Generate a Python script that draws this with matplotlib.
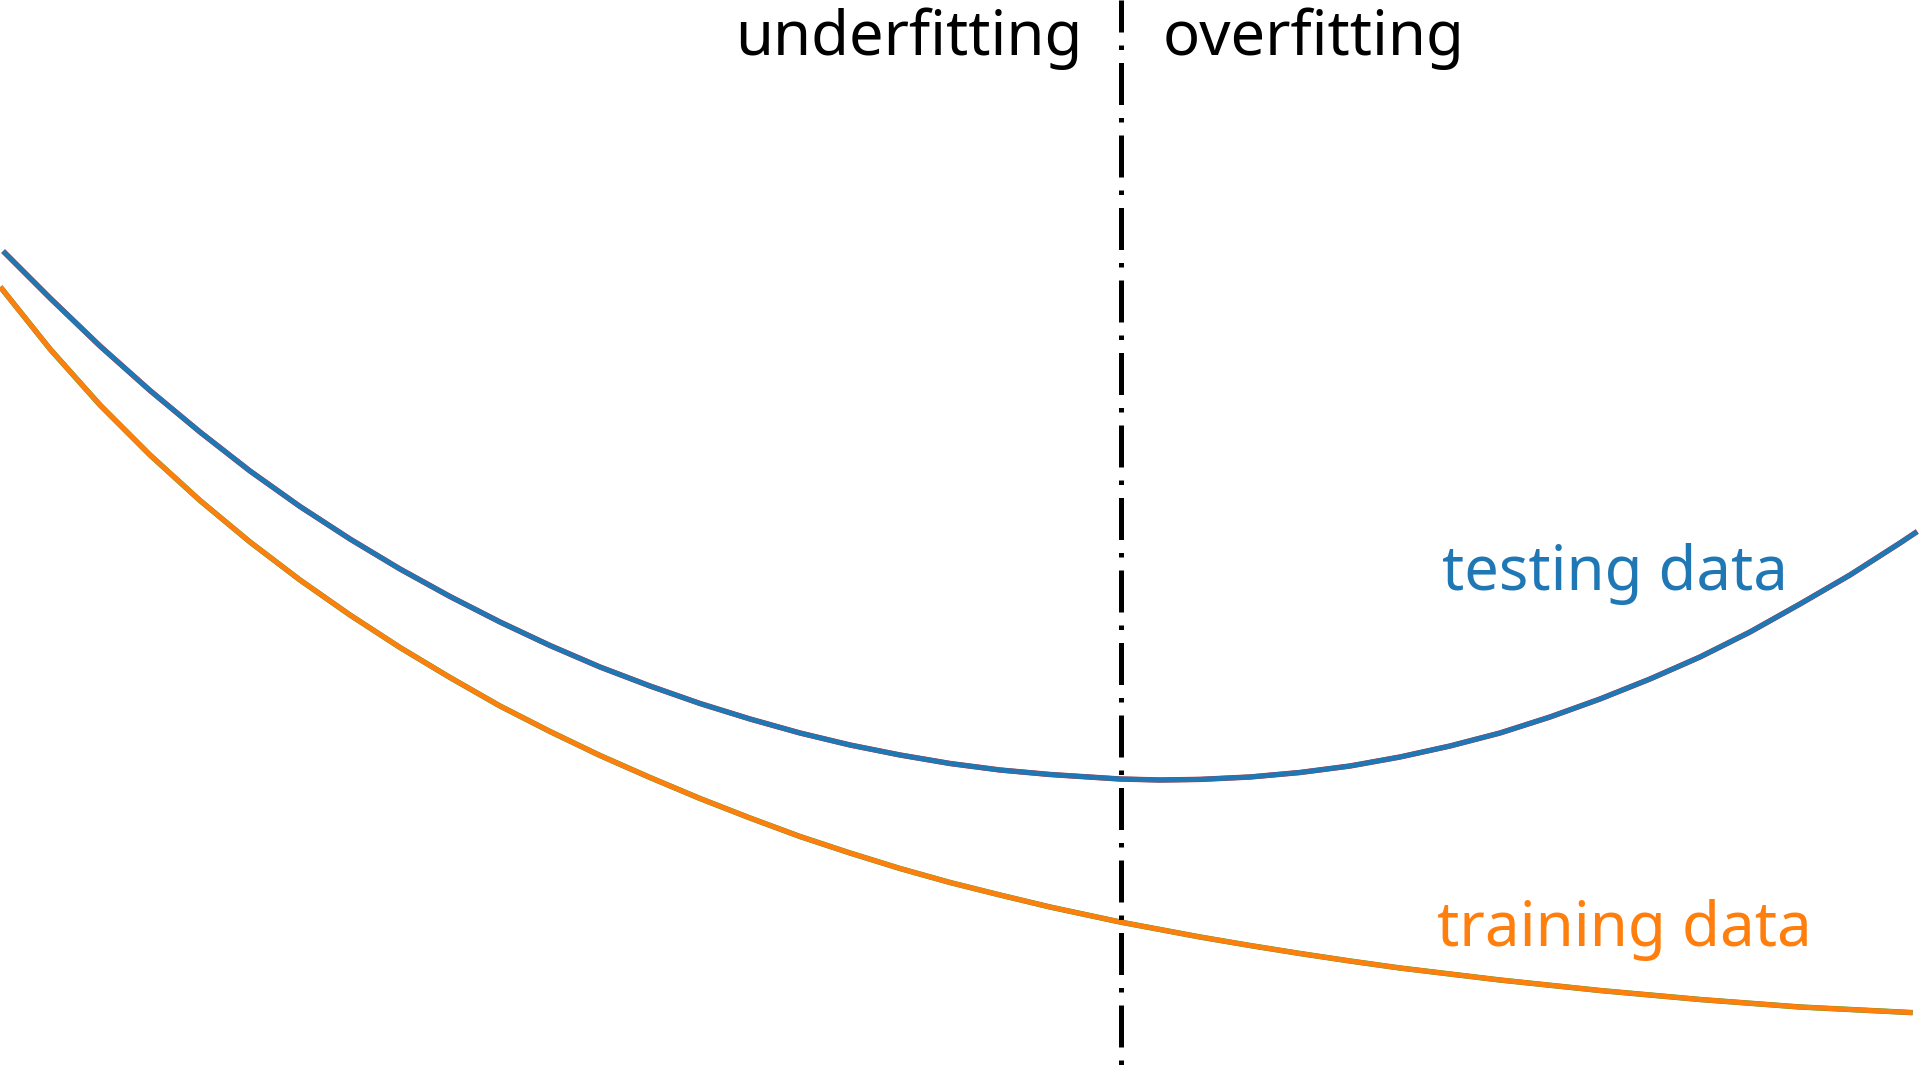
import numpy as np
import matplotlib.pyplot as plt

plt.rcParams['font.family'] = ['Noto Sans', 'DejaVu Sans']

# model complexity (x) and error (y)
test_x = [5, 50, 100, 150, 200, 250, 300, 350, 400, 450, 500, 550, 600, 650,
          700, 750, 800, 850, 900, 950, 1000, 1050, 1120, 1160, 1200, 1250,
          1300, 1350, 1400, 1450, 1500, 1550, 1600, 1650, 1700, 1750, 1800,
          1850, 1900, 1915]
test_err = [827, 782, 734, 689.5, 648, 609, 573.5, 541, 511, 483.5, 458, 434.5,
            413, 394, 376.5, 361, 347, 335, 325, 316.5, 310, 305.5, 301, 300,
            300.6, 303, 307.5, 314, 323, 334, 347, 363, 381, 401, 423, 448,
            476, 505, 537, 547]

train_x = [2, 50, 100, 150, 200, 250, 300, 350, 400, 450, 500, 550, 600, 650,
           700, 750, 800, 850, 900, 950, 1000, 1050, 1120, 1200, 1250, 1300,
           1350, 1400, 1500, 1600, 1700, 1800, 1910]
train_err = [791, 731, 675, 625, 579.5, 538, 500, 465, 432.5, 402.5, 374, 348.5,
             324.5, 302.5, 281.5, 262, 243.5, 227, 211.5, 197.5, 185, 173, 158,
             143, 134.5, 126.5, 119, 112, 100, 89.5, 80.5, 73, 67.5]

split_x = 1121
split_top, split_bottom = 1080, 12

fig = plt.figure(figsize=(19.2, 10.8), dpi=100)
ax = fig.add_axes([0, 0, 1, 1])
ax.set_xlim(0, 1920)
ax.set_ylim(0, 1080)
ax.axis('off')

ax.plot(test_x, test_err, color='#d62728', linewidth=3.9, solid_joinstyle='round')
ax.plot(test_x, test_err, color='#1f77b4', linewidth=3.6, solid_joinstyle='round')
ax.plot(train_x, train_err, color='#2ca02c', linewidth=3.9, solid_joinstyle='round')
ax.plot(train_x, train_err, color='#ff7f0e', linewidth=3.6, solid_joinstyle='round')

ax.plot([split_x, split_x], [split_top, split_bottom], color='black',
        linewidth=3.6, linestyle=(2, (8.4, 2.6, 0.9, 2.6)))

ax.text(1083, 1025, 'underfitting', fontsize=44.3, ha='right', va='baseline', color='black')
ax.text(1163, 1025, 'overfitting', fontsize=44.3, ha='left', va='baseline', color='black')
ax.text(1442, 490, 'testing data', fontsize=44.3, ha='left', va='baseline', color='#1f77b4')
ax.text(1437, 134, 'training data', fontsize=44.5, ha='left', va='baseline', color='#ff7f0e')

fig.savefig('out.png', dpi=100)
